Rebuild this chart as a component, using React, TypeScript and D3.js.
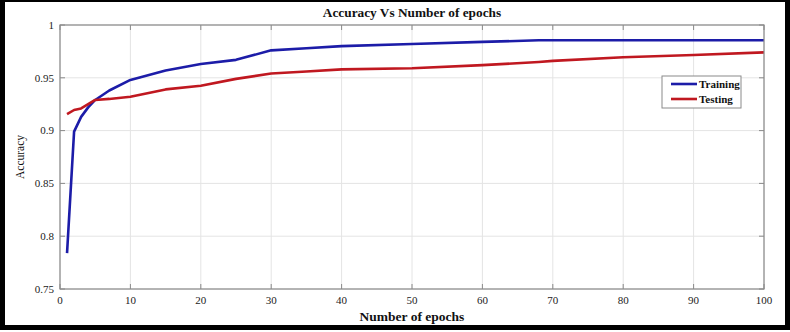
import React from 'react';
import * as d3 from 'd3';

const epochs = [1, 2, 3, 4, 5, 7, 10, 15, 20, 25, 30, 35, 40, 50, 60, 68, 70, 80, 90, 100];
const training = [0.784, 0.899, 0.913, 0.922, 0.929, 0.938, 0.948, 0.957, 0.963, 0.967, 0.976, 0.978, 0.980, 0.982, 0.984, 0.9855, 0.9855, 0.9855, 0.9855, 0.9855];
const testing = [0.9155, 0.9195, 0.921, 0.925, 0.929, 0.930, 0.932, 0.939, 0.9425, 0.949, 0.954, 0.956, 0.958, 0.959, 0.962, 0.965, 0.966, 0.9694, 0.9716, 0.9741];
const xTicks = [0, 10, 20, 30, 40, 50, 60, 70, 80, 90, 100];
const yTicks = [0.75, 0.8, 0.85, 0.9, 0.95, 1];
const seriesNames = ['Training', 'Testing'];
const seriesColors = ['#1c1ca8', '#c01820'];

const W = 790;
const H = 332;
const plot = { left: 60, right: 764, top: 25, bottom: 289 };
const font = '"Liberation Serif", "DejaVu Serif", serif';

const App = () => {
  const x = d3.scaleLinear().domain([0, 100]).range([plot.left, plot.right]);
  const y = d3.scaleLinear().domain([0.75, 1]).range([plot.bottom, plot.top]);

  const line = d3
    .line<number>()
    .x((_, i) => x(epochs[i]))
    .y(d => y(d));

  const series = [training, testing];
  const axisColor = '#8a8a8a';

  return (
    <svg
      width={W}
      height={H}
      style={{ position: 'absolute', left: 0, top: 0, background: '#fff' }}
      fontFamily={font}
    >
      {/* outer frame */}
      <rect x={0} y={0} width={W} height={H} fill="#fff" />
      <rect x={0} y={0} width={W} height={2} fill="#000" />
      <rect x={0} y={0} width={5} height={330} fill="#000" />
      <rect x={785} y={0} width={5} height={330} fill="#000" />
      <rect x={0} y={325} width={W} height={5} fill="#000" />

      {/* grid */}
      {xTicks.map(t => (
        <line key={'gx' + t} x1={x(t)} x2={x(t)} y1={plot.top} y2={plot.bottom} stroke="#e4e4e4" strokeWidth={1} />
      ))}
      {yTicks.map(t => (
        <line key={'gy' + t} x1={plot.left} x2={plot.right} y1={y(t)} y2={y(t)} stroke="#e4e4e4" strokeWidth={1} />
      ))}

      {/* series */}
      {series.map((s, i) => (
        <path key={seriesNames[i]} d={line(s) || ''} fill="none" stroke={seriesColors[i]} strokeWidth={2.6} strokeLinejoin="round" />
      ))}

      {/* box */}
      <rect
        x={plot.left}
        y={plot.top}
        width={plot.right - plot.left}
        height={plot.bottom - plot.top}
        fill="none"
        stroke={axisColor}
        strokeWidth={1.2}
      />

      {/* ticks */}
      {xTicks.map(t => (
        <g key={'tx' + t}>
          <line x1={x(t)} x2={x(t)} y1={plot.bottom} y2={plot.bottom - 5} stroke={axisColor} />
          <line x1={x(t)} x2={x(t)} y1={plot.top} y2={plot.top + 5} stroke={axisColor} />
          <text x={x(t)} y={304} textAnchor="middle" fontSize={11} fill="#222">
            {t}
          </text>
        </g>
      ))}
      {yTicks.map(t => (
        <g key={'ty' + t}>
          <line x1={plot.left} x2={plot.left + 5} y1={y(t)} y2={y(t)} stroke={axisColor} />
          <line x1={plot.right} x2={plot.right - 5} y1={y(t)} y2={y(t)} stroke={axisColor} />
          <text x={54} y={y(t)} dy="0.35em" textAnchor="end" fontSize={11} fill="#222">
            {d3.format('~g')(t)}
          </text>
        </g>
      ))}

      {/* labels */}
      <text x={(plot.left + plot.right) / 2} y={17} textAnchor="middle" fontSize={13.3} fontWeight="bold" fill="#111">
        Accuracy Vs Number of epochs
      </text>
      <text x={(plot.left + plot.right) / 2} y={321} textAnchor="middle" fontSize={13.5} fontWeight="bold" fill="#111">
        Number of epochs
      </text>
      <text
        transform={`translate(24,${(plot.top + plot.bottom) / 2}) rotate(-90)`}
        textAnchor="middle"
        fontSize={11.5}
        fill="#111"
      >
        Accuracy
      </text>

      {/* legend */}
      <rect x={662} y={76} width={79} height={32} fill="#fff" stroke={axisColor} strokeWidth={1} />
      {seriesNames.map((n, i) => (
        <g key={'lg' + n}>
          <line x1={671} x2={697} y1={84 + i * 15} y2={84 + i * 15} stroke={seriesColors[i]} strokeWidth={2.6} />
          <text x={699} y={84 + i * 15} dy="0.35em" fontSize={11} fontWeight="bold" fill="#111">
            {n}
          </text>
        </g>
      ))}
    </svg>
  );
};

export default App;
